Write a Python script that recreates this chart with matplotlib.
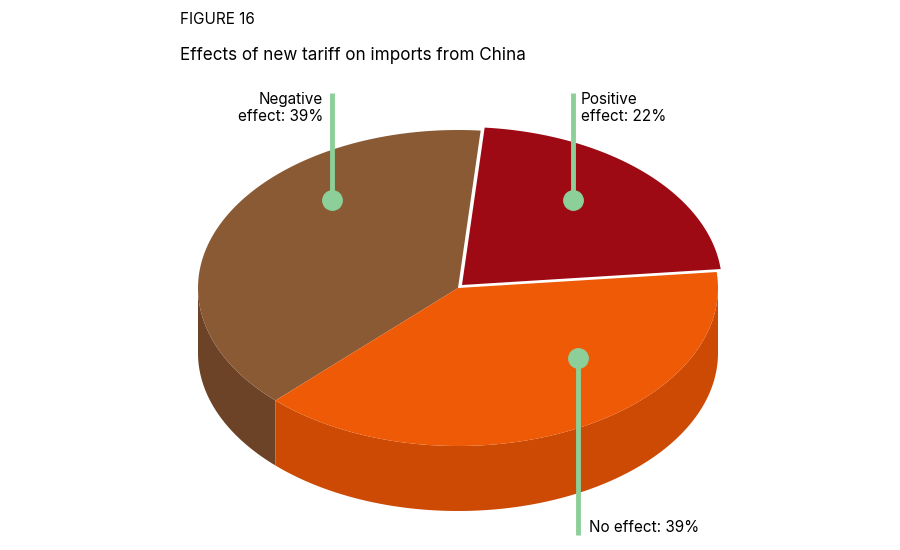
import numpy as np
import matplotlib
matplotlib.use("Agg")
from matplotlib import pyplot as plt
from matplotlib.patches import Polygon

plt.rcParams['font.family'] = ['Inter', 'DejaVu Sans']

# data
labels = ["Positive\neffect: 22%", "No effect: 39%", "Negative\neffect: 39%"]
shares = [22, 39, 39]
top_colors = ["#9E0A14", "#EE5A06", "#8A5A34"]
side_colors = ["#7E0810", "#CC4A04", "#6C4326"]

# pie geometry (pixel space)
cx, cy = 458, 288
rx, ry = 260, 158
depth = 65
start = 85  # degrees, slices go clockwise
explode = [(4, -3), (0, 0), (0, 0)]

fig = plt.figure(figsize=(9, 5.5), dpi=100)
ax = fig.add_axes([0, 0, 1, 1])
ax.set_xlim(0, 900)
ax.set_ylim(550, 0)
ax.axis('off')

fracs = np.array(shares, dtype=float) / sum(shares)
bounds = start - 360 * np.concatenate([[0], np.cumsum(fracs)])

def arc(t1, t2, ox, oy, dz=0, n=120):
    t = np.radians(np.linspace(t1, t2, n))
    return np.column_stack([cx + ox + rx * np.cos(t), cy + oy + dz - ry * np.sin(t)])

# draw back slices first: brown, red, then orange in front
order = [2, 0, 1]
for i in order:
    a1, a2 = bounds[i], bounds[i + 1]   # a1 > a2
    ox, oy = explode[i]
    # outer wall: only front-facing part (sin < 0)
    lo, hi = min(a1, a2), max(a1, a2)
    for k in range(-2, 2):
        f1, f2 = max(lo, 180 + 360 * k), min(hi, 360 + 360 * k)
        if f2 > f1:
            top = arc(f1, f2, ox, oy)
            bot = arc(f2, f1, ox, oy, depth)
            ax.add_patch(Polygon(np.vstack([top, bot]), closed=True,
                                 fc=side_colors[i], ec='none', zorder=1))
    # top face
    pts = np.vstack([[cx + ox, cy + oy], arc(a1, a2, ox, oy)])
    ax.add_patch(Polygon(pts, closed=True, fc=top_colors[i], ec='none', zorder=1))

# callouts
green = "#8CCF98"
ax.plot([332, 332], [93, 200], color=green, lw=3.5, solid_capstyle='butt', zorder=3)
ax.plot(332, 200, 'o', color=green, ms=14, zorder=3)
ax.text(323, 108, labels[2], ha='right', va='center', fontsize=11, linespacing=1.15, zorder=4)

ax.plot([573, 573], [93, 200], color=green, lw=3.5, solid_capstyle='butt', zorder=3)
ax.plot(573, 200, 'o', color=green, ms=14, zorder=3)
ax.text(581, 108, labels[0], ha='left', va='center', fontsize=11, linespacing=1.15, zorder=4)

ax.plot([578, 578], [358, 535], color=green, lw=3.5, solid_capstyle='butt', zorder=3)
ax.plot(578, 358, 'o', color=green, ms=14, zorder=3)
ax.text(589, 527, labels[1], ha='left', va='center', fontsize=11, zorder=4)

# titles
ax.text(180, 20, "FIGURE 16", ha='left', va='center', fontsize=11)
ax.text(180, 56, "Effects of new tariff on imports from China", ha='left', va='center', fontsize=12.3)

plt.savefig('out.png', dpi=100)
